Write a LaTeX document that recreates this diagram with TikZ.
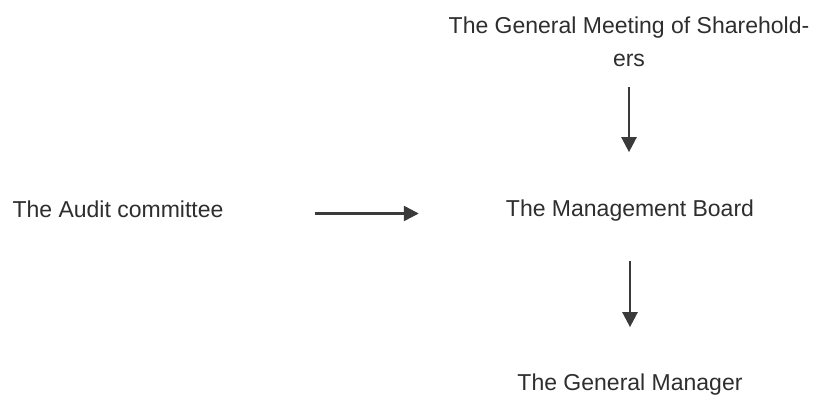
\documentclass[tikz,border=0pt]{standalone}
\usepackage{fontspec}
\setmainfont{Liberation Sans}
\usetikzlibrary{arrows.meta}
\definecolor{txt}{HTML}{2E2E2E}
\definecolor{arr}{HTML}{3A3A3A}
\begin{document}
\begin{tikzpicture}[x=1pt,y=-1pt,
  lbl/.style={inner sep=0pt,text=txt,font=\fontsize{23}{33}\selectfont,anchor=base},
  conn/.style={draw=arr,line width=2.5pt,-{Triangle[length=15pt,width=15pt]}}]
\useasboundingbox[fill=white] (0,0) rectangle (820,394);
\node[lbl] (gms) at (629,33) {The General Meeting of Sharehold-};
\node[lbl] (gms2) at (629,66) {ers};
\node[lbl] (ac) at (118,217) {The Audit committee};
\node[lbl] (mb) at (630,216) {The Management Board};
\node[lbl] (gm) at (630,390) {The General Manager};
\draw[conn,shorten <=21pt,shorten >=47pt] (gms2.south) -- (gms2.south |- mb.north);
\draw[conn,shorten <=40pt,shorten >=46pt] (mb.south) -- (mb.south |- gm.north);
\draw[conn,shorten <=91pt,shorten >=87pt] (ac.east |- 0,213.5) -- (mb.west |- 0,213.5);
\end{tikzpicture}
\end{document}
